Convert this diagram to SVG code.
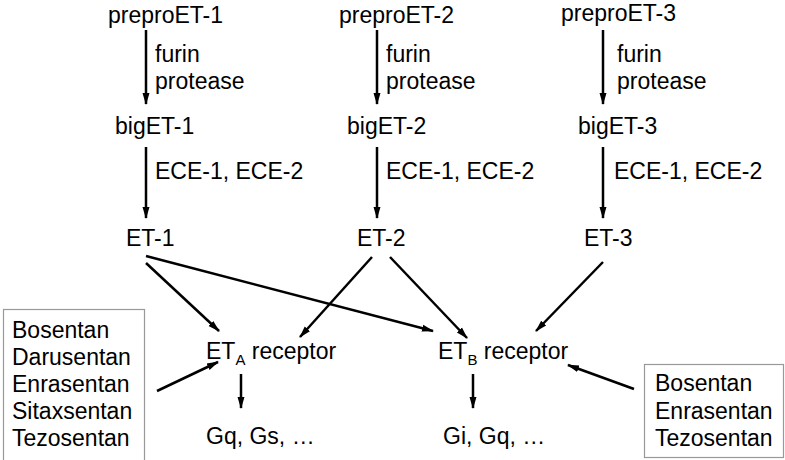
<svg xmlns="http://www.w3.org/2000/svg" width="785" height="460" viewBox="0 0 785 460">
<style>
text{font-family:"Liberation Sans",Arial,sans-serif;font-size:23px;fill:#000}
.sub{font-size:15px}
.c line{stroke:#000;stroke-width:2.5;marker-end:url(#ah)}
.box{fill:#fff;stroke:#999;stroke-width:1.2}
</style>
<defs>
<marker id="ah" markerUnits="userSpaceOnUse" markerWidth="12" markerHeight="10" viewBox="0 0 12 10" refX="11" refY="5" orient="auto"><path d="M0,1.5 L12,5 L0,8.5 Z" fill="#000"/></marker>
</defs>
<rect x="0" y="0" width="785" height="460" fill="#fff"/>
<g class="c" id="connectors">
<line x1="146" y1="30" x2="146" y2="104"/>
<line x1="146" y1="147" x2="146" y2="218"/>
<line x1="377" y1="30" x2="377" y2="104"/>
<line x1="377" y1="147" x2="377" y2="218"/>
<line x1="603" y1="30" x2="603" y2="104"/>
<line x1="603" y1="147" x2="603" y2="218"/>
<line x1="146" y1="263" x2="219" y2="331"/>
<line x1="146" y1="256" x2="433" y2="331"/>
<line x1="372" y1="257" x2="300" y2="337"/>
<line x1="390" y1="257" x2="467" y2="338"/>
<line x1="603" y1="262" x2="536" y2="331"/>
<line x1="157" y1="391" x2="218" y2="362"/>
<line x1="241" y1="374" x2="241" y2="408"/>
<line x1="473" y1="374" x2="473" y2="408"/>
<line x1="634" y1="389" x2="568" y2="365"/>
</g>
<g id="preproET-1"><text x="108" y="23">preproET-1</text></g>
<g id="preproET-2"><text x="339" y="23">preproET-2</text></g>
<g id="preproET-3"><text x="561" y="21">preproET-3</text></g>
<g id="label-furin-1"><text x="155" y="62">furin</text><text x="155" y="89">protease</text></g>
<g id="label-furin-2"><text x="386" y="62">furin</text><text x="386" y="89">protease</text></g>
<g id="label-furin-3"><text x="617" y="62">furin</text><text x="617" y="89">protease</text></g>
<g id="bigET-1"><text x="115" y="134">bigET-1</text></g>
<g id="bigET-2"><text x="347" y="134">bigET-2</text></g>
<g id="bigET-3"><text x="578" y="134">bigET-3</text></g>
<g id="label-ece-1"><text x="155" y="179">ECE-1, ECE-2</text></g>
<g id="label-ece-2"><text x="386" y="179">ECE-1, ECE-2</text></g>
<g id="label-ece-3"><text x="614" y="179">ECE-1, ECE-2</text></g>
<g id="ET-1"><text x="126" y="246">ET-1</text></g>
<g id="ET-2"><text x="357" y="246">ET-2</text></g>
<g id="ET-3"><text x="584" y="246">ET-3</text></g>
<g id="ETA-receptor"><text x="206" y="359">ET<tspan class="sub" dy="6">A</tspan><tspan dy="-6"> receptor</tspan></text></g>
<g id="ETB-receptor"><text x="438" y="359">ET<tspan class="sub" dy="6">B</tspan><tspan dy="-6"> receptor</tspan></text></g>
<g id="G-A"><text x="206" y="444">Gq, Gs, …</text></g>
<g id="G-B"><text x="443" y="444">Gi, Gq, …</text></g>
<g id="antagonists-A">
<rect class="box" x="3.5" y="309.5" width="141" height="160"/>
<text x="12" y="338">Bosentan</text>
<text x="12" y="365">Darusentan</text>
<text x="12" y="392">Enrasentan</text>
<text x="12" y="419">Sitaxsentan</text>
<text x="12" y="446">Tezosentan</text>
</g>
<g id="antagonists-B">
<rect class="box" x="644.5" y="364.5" width="139" height="93"/>
<text x="655" y="391">Bosentan</text>
<text x="655" y="419">Enrasentan</text>
<text x="655" y="446">Tezosentan</text>
</g>
</svg>
